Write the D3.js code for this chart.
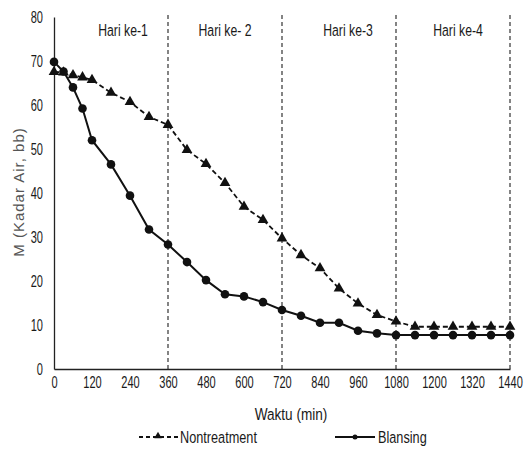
<!DOCTYPE html>
<html><head><meta charset="utf-8">
<script src="https://cdn.jsdelivr.net/npm/d3@7"></script>
<style>body{margin:0;background:#fff}svg{display:block}</style>
</head><body>
<svg id="c" width="528" height="453"></svg>
<script>
const times = [0,30,60,90,120,180,240,300,360,420,480,540,600,660,720,780,840,900,960,1020,1080,1140,1200,1260,1320,1380,1440];
const nontreatment = [67.5,67.4,66.8,66.3,65.7,62.8,60.7,57.3,55.5,49.8,46.6,42.3,36.9,33.9,29.7,25.9,22.9,18.3,14.9,12.3,10.8,9.6,9.6,9.6,9.6,9.6,9.6];
const blansing = [69.8,67.6,64,59.2,52,46.5,39.4,31.7,28.3,24.3,20.2,17,16.5,15.2,13.4,12.1,10.5,10.5,8.7,8.1,7.7,7.7,7.7,7.7,7.7,7.7,7.7];
const xTicks = [0,120,240,360,480,600,720,840,960,1080,1200,1320,1440];
const yTicks = [0,10,20,30,40,50,60,70,80];
const dayLines = [360,720,1080,1440];
const dayLabels = ["Hari ke-1","Hari ke- 2","Hari ke-3","Hari ke-4"];
const dayLabelX = [123,225,348,458];

const svg = d3.select("#c");
const F = "'Liberation Sans',Arial,sans-serif";
const x = d3.scaleLinear().domain([0,1440]).range([54,510]);
const y = d3.scaleLinear().domain([0,80]).range([369,17]);

function ntext(g, tx, ty, str, size, sx, anchor){
  return g.append("text").attr("transform",`translate(${tx},${ty}) scale(${sx},1)`)
    .attr("text-anchor",anchor||"start").attr("font-family",F).attr("font-size",size)
    .attr("fill","#1a1a1a").text(str);
}

// day separators
svg.selectAll(".day").data(dayLines).join("line")
  .attr("x1",d=>x(d)).attr("x2",d=>x(d)).attr("y1",y(80)-2).attr("y2",y(0))
  .attr("stroke","#333").attr("stroke-width",1.2).attr("stroke-dasharray","4,3");

dayLabels.forEach((d,i)=>ntext(svg, dayLabelX[i], 36, d, 17, 0.72, "middle"));

// axes
const TS = 0.65;
const xAxis = d3.axisBottom(x).tickValues(xTicks).tickFormat(d3.format("d")).tickSize(0).tickPadding(7);
const gx = svg.append("g").attr("transform",`translate(0,${y(0)})`).call(xAxis);
gx.select(".domain").attr("stroke","#222").attr("stroke-width",1.3);
gx.selectAll("text").attr("font-family",F).attr("font-size",17).attr("fill","#1a1a1a")
  .attr("transform",`scale(${TS},1)`);

const yAxis = d3.axisLeft(y).tickValues(yTicks).tickFormat(d3.format("d")).tickSize(0).tickPadding(0);
const gy = svg.append("g").attr("transform",`translate(${x(0)},0)`).call(yAxis);
gy.select(".domain").attr("stroke","#222").attr("stroke-width",1.3);
gy.selectAll("text").attr("font-family",F).attr("font-size",17).attr("fill","#1a1a1a")
  .attr("x",-11/TS).attr("transform",`scale(${TS},1)`);

ntext(svg, 291, 420, "Waktu (min)", 17, 0.8, "middle");
svg.append("text").attr("transform","translate(24,192) rotate(-90)").attr("text-anchor","middle")
  .attr("font-family",F).attr("font-size",15).attr("letter-spacing",1).attr("fill","#555").text("M (Kadar Air, bb)");

const line = d3.line().x((d,i)=>x(times[i])).y(d=>y(d));
svg.append("path").datum(nontreatment).attr("d",line).attr("fill","none")
  .attr("stroke","#111").attr("stroke-width",1.8).attr("stroke-dasharray","5,3");
svg.append("path").datum(blansing).attr("d",line).attr("fill","none")
  .attr("stroke","#111").attr("stroke-width",2);

const tri = d3.symbol().type(d3.symbolTriangle).size(50);
svg.selectAll(".t").data(nontreatment).join("path")
  .attr("d",tri).attr("transform",(d,i)=>`translate(${x(times[i])},${y(d)})`).attr("fill","#111");
svg.selectAll(".cc").data(blansing).join("circle")
  .attr("cx",(d,i)=>x(times[i])).attr("cy",d=>y(d)).attr("r",4.3).attr("fill","#111");

// legend
const lg = svg.append("g");
lg.append("line").attr("x1",139).attr("x2",178).attr("y1",437).attr("y2",437)
  .attr("stroke","#111").attr("stroke-width",1.8).attr("stroke-dasharray","4,3");
lg.append("path").attr("d",d3.symbol().type(d3.symbolTriangle).size(24)).attr("transform","translate(158,436)").attr("fill","#111");
ntext(lg, 180, 443, "Nontreatment", 16.5, 0.77);
lg.append("line").attr("x1",335).attr("x2",375).attr("y1",437).attr("y2",437)
  .attr("stroke","#111").attr("stroke-width",2);
lg.append("circle").attr("cx",355).attr("cy",437).attr("r",2.5).attr("fill","#111");
ntext(lg, 378, 443, "Blansing", 16.5, 0.77);
</script>
</body></html>
